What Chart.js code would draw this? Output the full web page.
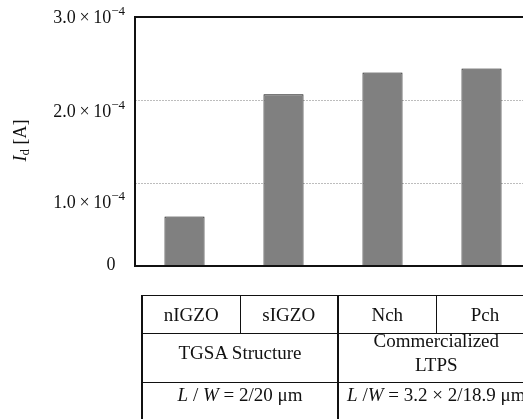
<!DOCTYPE html>
<html>
<head>
<meta charset="utf-8">
<script src="https://cdn.jsdelivr.net/npm/chart.js@4.4.1/dist/chart.umd.min.js"></script>
<style>
  html, body { margin: 0; padding: 0; background: #fff; overflow: hidden; width: 523px; height: 419px; }
  #wrap { position: absolute; left: 0; top: 0; width: 560px; height: 300px; }
  #info {
    position: absolute; left: 141px; top: 295px; width: 392px;
    border-collapse: collapse; table-layout: fixed;
    font-family: "Liberation Serif", "DejaVu Serif", serif; font-size: 19px; color: #111;
  }
  #info td { border: 1px solid #111; text-align: center; padding: 0; white-space: nowrap; }
  #info tr.r1 td { height: 37px; }
  #info tr.r2 td { height: 48px; line-height: 24px; }
  #info tr.r3 td { height: 37px; vertical-align: top; padding-top: 1px; border-bottom: none; }
  #info .mid, #info .first { border-left: 2px solid #111; }
  .up { position: relative; top: -5px; }
  i { font-style: italic; }
</style>
</head>
<body>
<div id="wrap"><canvas id="myChart"></canvas></div>
<table id="info">
  <colgroup><col style="width:98px"><col style="width:98px"><col style="width:98px"><col style="width:98px"></colgroup>
  <tr class="r1"><td class="first">nIGZO</td><td>sIGZO</td><td class="mid">Nch</td><td>Pch</td></tr>
  <tr class="r2"><td class="first" colspan="2"><div class="up">TGSA Structure</div></td><td class="mid" colspan="2"><div class="up">Commercialized<br>LTPS</div></td></tr>
  <tr class="r3"><td class="first" colspan="2"><i>L</i> / <i>W</i> = 2/20 μm</td><td class="mid" colspan="2"><i>L</i> /<i>W</i> = 3.2 × 2/18.9 μm</td></tr>
</table>
<script>
// device names and drain current values (A)
const devices = ["nIGZO", "sIGZO", "Nch", "Pch"];
const drainCurrent = [0.595e-4, 2.07e-4, 2.33e-4, 2.38e-4];
const yTicks = [0, 1.0e-4, 2.0e-4, 3.0e-4];
const yTickText = ["0", "1.0", "2.0", "3.0"];
const gridValues = [1.0e-4, 2.0e-4];

const serif = '"Liberation Serif", "DejaVu Serif", serif';

const framePlugin = {
  id: "frame",
  beforeDatasetsDraw(chart) {
    const { ctx, chartArea: { left, right }, scales: { y } } = chart;
    ctx.save();
    ctx.strokeStyle = "#bdbdbd";
    ctx.lineWidth = 1;
    ctx.setLineDash([2, 1]);
    gridValues.forEach((v) => {
      const yy = Math.round(y.getPixelForValue(v)) + 0.5;
      ctx.beginPath();
      ctx.moveTo(left, yy);
      ctx.lineTo(right, yy);
      ctx.stroke();
    });
    ctx.restore();
  },
  afterDatasetsDraw(chart) {
    const { ctx, chartArea: { left, right, top, bottom }, scales: { y } } = chart;
    ctx.save();
    ctx.strokeStyle = "#111";
    ctx.lineWidth = 2;
    ctx.beginPath();
    ctx.moveTo(right, top);
    ctx.lineTo(left, top);
    ctx.lineTo(left, bottom);
    ctx.lineTo(right, bottom);
    ctx.stroke();

    // tick labels with superscript exponent
    const labelOffsets = [-1, 20, 12, 1];
    ctx.fillStyle = "#111";
    ctx.textBaseline = "middle";
    yTicks.forEach((v, i) => {
      const yy = y.getPixelForValue(v) + labelOffsets[i];
      if (v === 0) {
        ctx.font = "18px " + serif;
        ctx.textAlign = "center";
        ctx.fillText("0", left - 24, yy);
        return;
      }
      const main = yTickText[i] + "\u2009×\u200910";
      const sup = "−4";
      ctx.font = "13px " + serif;
      const supW = ctx.measureText(sup).width;
      ctx.font = "18px " + serif;
      const mainW = ctx.measureText(main).width;
      const x0 = left - 10 - supW - mainW;
      ctx.textAlign = "left";
      ctx.fillText(main, x0, yy);
      ctx.font = "13px " + serif;
      ctx.fillText(sup, x0 + mainW, yy - 6);
    });

    // axis title I_d [A]
    const midY = (top + bottom) / 2;
    ctx.translate(21, midY - 1);
    ctx.rotate(-Math.PI / 2);
    ctx.font = "italic 18px " + serif;
    const wI = ctx.measureText("I").width;
    ctx.font = "13px " + serif;
    const wd = ctx.measureText("d").width;
    ctx.font = "18px " + serif;
    const wA = ctx.measureText(" [A]").width;
    let x = -(wI + wd + wA) / 2;
    ctx.textAlign = "left";
    ctx.font = "italic 18px " + serif;
    ctx.fillText("I", x, 0);
    x += wI;
    ctx.font = "13px " + serif;
    ctx.fillText("d", x, 5);
    x += wd;
    ctx.font = "18px " + serif;
    ctx.fillText(" [A]", x, 0);
    ctx.restore();
  },
};

new Chart(document.getElementById("myChart"), {
  type: "bar",
  data: {
    labels: devices,
    datasets: [
      {
        data: drainCurrent,
        backgroundColor: "#808080",
        borderColor: "#111",
        borderWidth: 1,
        borderSkipped: false,
        barPercentage: 0.405,
        categoryPercentage: 1,
      },
    ],
  },
  options: {
    responsive: true,
    maintainAspectRatio: false,
    animation: false,
    layout: { padding: { left: 127, top: 17, right: 29, bottom: 26 } },
    scales: {
      x: {
        grid: { display: false },
        border: { display: false },
        ticks: { display: false },
      },
      y: {
        min: 0,
        max: 3.0e-4,
        grid: { display: false },
        border: { display: false },
        ticks: { display: false, stepSize: 1.0e-4 },
      },
    },
    plugins: {
      legend: { display: false },
      tooltip: { enabled: false },
      title: { display: false },
    },
  },
  plugins: [framePlugin],
});
</script>
</body>
</html>
